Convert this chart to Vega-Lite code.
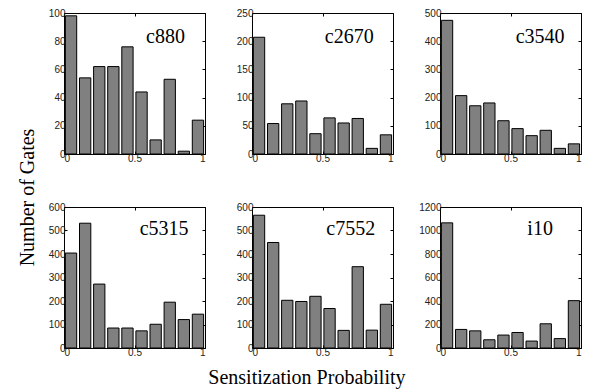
{
  "$schema": "https://vega.github.io/schema/vega-lite/v6.json",
  "padding": {"left": 17, "top": 7, "right": 5, "bottom": 5},
  "background": "white",
  "config": {
    "view": {"stroke": "black", "strokeWidth": 1},
    "scale": {"continuousPadding": 0},
    "axis": {"domain": false, "grid": false, "tickSize": -3, "tickColor": "black", "tickWidth": 1,
      "labelFont": "Liberation Sans", "labelFontSize": 10, "labelColor": "#222", "title": null, "labelPadding": 2},
    "title": {"font": "Liberation Serif", "fontSize": 20, "fontWeight": "normal", "color": "black", "anchor": "middle"},
    "text": {"font": "Liberation Serif", "fontSize": 20, "fontWeight": "normal", "align": "center", "baseline": "alphabetic", "fill": "black"}
  },
  "datasets": {
    "c880": [{"p":0.05,"n":98},{"p":0.15,"n":54},{"p":0.25,"n":62},{"p":0.35,"n":62},{"p":0.45,"n":76},{"p":0.55,"n":44},{"p":0.65,"n":10},{"p":0.75,"n":53},{"p":0.85,"n":2},{"p":0.95,"n":24}],
    "c2670": [{"p":0.05,"n":207},{"p":0.15,"n":54},{"p":0.25,"n":89},{"p":0.35,"n":94},{"p":0.45,"n":36},{"p":0.55,"n":64},{"p":0.65,"n":55},{"p":0.75,"n":63},{"p":0.85,"n":10},{"p":0.95,"n":34}],
    "c3540": [{"p":0.05,"n":474},{"p":0.15,"n":207},{"p":0.25,"n":171},{"p":0.35,"n":181},{"p":0.45,"n":118},{"p":0.55,"n":90},{"p":0.65,"n":65},{"p":0.75,"n":84},{"p":0.85,"n":20},{"p":0.95,"n":36}],
    "c5315": [{"p":0.05,"n":404},{"p":0.15,"n":531},{"p":0.25,"n":272},{"p":0.35,"n":85},{"p":0.45,"n":85},{"p":0.55,"n":73},{"p":0.65,"n":101},{"p":0.75,"n":195},{"p":0.85,"n":121},{"p":0.95,"n":144}],
    "c7552": [{"p":0.05,"n":565},{"p":0.15,"n":449},{"p":0.25,"n":203},{"p":0.35,"n":198},{"p":0.45,"n":220},{"p":0.55,"n":168},{"p":0.65,"n":75},{"p":0.75,"n":346},{"p":0.85,"n":76},{"p":0.95,"n":186}],
    "i10": [{"p":0.05,"n":1065},{"p":0.15,"n":158},{"p":0.25,"n":146},{"p":0.35,"n":70},{"p":0.45,"n":110},{"p":0.55,"n":132},{"p":0.65,"n":59},{"p":0.75,"n":206},{"p":0.85,"n":80},{"p":0.95,"n":403}]
  },
  "title": {"text": "Number of Gates", "orient": "left", "offset": 10, "anchor": "middle"},
  "vconcat": [{
    "title": {"text": "Sensitization Probability", "orient": "bottom", "offset": 10, "anchor": "middle", "dx": -8},
    "columns": 3,
    "bounds": "flush",
    "spacing": {"row": 53, "column": 47},
    "concat": [
      {"width": 141, "height": 141,
       "layer": [
        {"data": {"name": "c880"}, "mark": {"type": "bar", "width": 11.3, "fill": "#808080", "stroke": "black", "strokeWidth": 1},
         "encoding": {"x": {"field": "p", "type": "quantitative", "scale": {"domain": [0, 1], "nice": false, "padding": 0}, "axis": {"values": [0, 0.5, 1], "format": "~g"}},
                      "y": {"field": "n", "type": "quantitative", "scale": {"domain": [0, 100], "nice": false}, "axis": {"values": [0, 20, 40, 60, 80, 100], "format": "d"}}}},
        {"data": {"values": [{"label": "c880"}]}, "mark": {"type": "text"},
         "encoding": {"x": {"datum": 0.72, "type": "quantitative", "axis": {"orient": "top", "labels": false, "values": [0, 0.5, 1]}},
                      "y": {"datum": 79, "type": "quantitative", "axis": {"orient": "right", "labels": false, "values": [0, 20, 40, 60, 80, 100]}},
                      "text": {"field": "label"}}}
       ],
       "resolve": {"axis": {"x": "independent", "y": "independent"}}},
      {"width": 141, "height": 141,
       "layer": [
        {"data": {"name": "c2670"}, "mark": {"type": "bar", "width": 11.3, "fill": "#808080", "stroke": "black", "strokeWidth": 1},
         "encoding": {"x": {"field": "p", "type": "quantitative", "scale": {"domain": [0, 1], "nice": false, "padding": 0}, "axis": {"values": [0, 0.5, 1], "format": "~g"}},
                      "y": {"field": "n", "type": "quantitative", "scale": {"domain": [0, 250], "nice": false}, "axis": {"values": [0, 50, 100, 150, 200, 250], "format": "d"}}}},
        {"data": {"values": [{"label": "c2670"}]}, "mark": {"type": "text"},
         "encoding": {"x": {"datum": 0.69, "type": "quantitative", "axis": {"orient": "top", "labels": false, "values": [0, 0.5, 1]}},
                      "y": {"datum": 197.5, "type": "quantitative", "axis": {"orient": "right", "labels": false, "values": [0, 50, 100, 150, 200, 250]}},
                      "text": {"field": "label"}}}
       ],
       "resolve": {"axis": {"x": "independent", "y": "independent"}}},
      {"width": 141, "height": 141,
       "layer": [
        {"data": {"name": "c3540"}, "mark": {"type": "bar", "width": 11.3, "fill": "#808080", "stroke": "black", "strokeWidth": 1},
         "encoding": {"x": {"field": "p", "type": "quantitative", "scale": {"domain": [0, 1], "nice": false, "padding": 0}, "axis": {"values": [0, 0.5, 1], "format": "~g"}},
                      "y": {"field": "n", "type": "quantitative", "scale": {"domain": [0, 500], "nice": false}, "axis": {"values": [0, 100, 200, 300, 400, 500], "format": "d"}}}},
        {"data": {"values": [{"label": "c3540"}]}, "mark": {"type": "text"},
         "encoding": {"x": {"datum": 0.71, "type": "quantitative", "axis": {"orient": "top", "labels": false, "values": [0, 0.5, 1]}},
                      "y": {"datum": 395, "type": "quantitative", "axis": {"orient": "right", "labels": false, "values": [0, 100, 200, 300, 400, 500]}},
                      "text": {"field": "label"}}}
       ],
       "resolve": {"axis": {"x": "independent", "y": "independent"}}},
      {"width": 141, "height": 141,
       "layer": [
        {"data": {"name": "c5315"}, "mark": {"type": "bar", "width": 11.3, "fill": "#808080", "stroke": "black", "strokeWidth": 1},
         "encoding": {"x": {"field": "p", "type": "quantitative", "scale": {"domain": [0, 1], "nice": false, "padding": 0}, "axis": {"values": [0, 0.5, 1], "format": "~g"}},
                      "y": {"field": "n", "type": "quantitative", "scale": {"domain": [0, 600], "nice": false}, "axis": {"values": [0, 100, 200, 300, 400, 500, 600], "format": "d"}}}},
        {"data": {"values": [{"label": "c5315"}]}, "mark": {"type": "text"},
         "encoding": {"x": {"datum": 0.71, "type": "quantitative", "axis": {"orient": "top", "labels": false, "values": [0, 0.5, 1]}},
                      "y": {"datum": 480, "type": "quantitative", "axis": {"orient": "right", "labels": false, "values": [0, 100, 200, 300, 400, 500, 600]}},
                      "text": {"field": "label"}}}
       ],
       "resolve": {"axis": {"x": "independent", "y": "independent"}}},
      {"width": 141, "height": 141,
       "layer": [
        {"data": {"name": "c7552"}, "mark": {"type": "bar", "width": 11.3, "fill": "#808080", "stroke": "black", "strokeWidth": 1},
         "encoding": {"x": {"field": "p", "type": "quantitative", "scale": {"domain": [0, 1], "nice": false, "padding": 0}, "axis": {"values": [0, 0.5, 1], "format": "~g"}},
                      "y": {"field": "n", "type": "quantitative", "scale": {"domain": [0, 600], "nice": false}, "axis": {"values": [0, 100, 200, 300, 400, 500, 600], "format": "d"}}}},
        {"data": {"values": [{"label": "c7552"}]}, "mark": {"type": "text"},
         "encoding": {"x": {"datum": 0.7, "type": "quantitative", "axis": {"orient": "top", "labels": false, "values": [0, 0.5, 1]}},
                      "y": {"datum": 480, "type": "quantitative", "axis": {"orient": "right", "labels": false, "values": [0, 100, 200, 300, 400, 500, 600]}},
                      "text": {"field": "label"}}}
       ],
       "resolve": {"axis": {"x": "independent", "y": "independent"}}},
      {"width": 141, "height": 141,
       "layer": [
        {"data": {"name": "i10"}, "mark": {"type": "bar", "width": 11.3, "fill": "#808080", "stroke": "black", "strokeWidth": 1},
         "encoding": {"x": {"field": "p", "type": "quantitative", "scale": {"domain": [0, 1], "nice": false, "padding": 0}, "axis": {"values": [0, 0.5, 1], "format": "~g"}},
                      "y": {"field": "n", "type": "quantitative", "scale": {"domain": [0, 1200], "nice": false}, "axis": {"values": [0, 200, 400, 600, 800, 1000, 1200], "format": "d"}}}},
        {"data": {"values": [{"label": "i10"}]}, "mark": {"type": "text"},
         "encoding": {"x": {"datum": 0.71, "type": "quantitative", "axis": {"orient": "top", "labels": false, "values": [0, 0.5, 1]}},
                      "y": {"datum": 960, "type": "quantitative", "axis": {"orient": "right", "labels": false, "values": [0, 200, 400, 600, 800, 1000, 1200]}},
                      "text": {"field": "label"}}}
       ],
       "resolve": {"axis": {"x": "independent", "y": "independent"}}}
    ]
  }]
}
